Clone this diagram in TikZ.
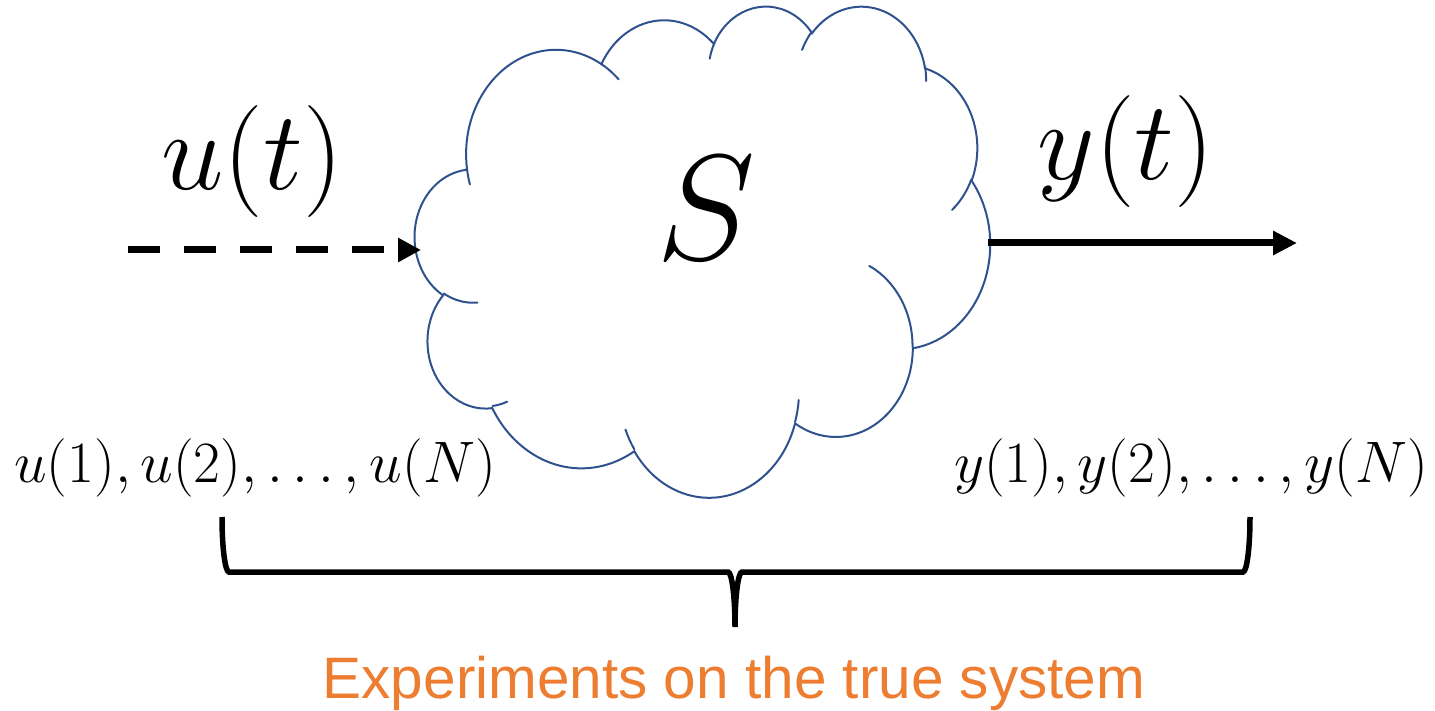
\RequirePackage{fix-cm}
\documentclass[tikz,border=0pt]{standalone}
\usepackage{fontspec}
\usepackage{tikz}
\usetikzlibrary{arrows.meta}
\newfontfamily\capfont{Liberation Sans}
\definecolor{myblue}{RGB}{47,82,143}
\definecolor{myorange}{RGB}{237,125,49}
\definecolor{mydark}{RGB}{0,0,0}
\tikzset{
  cloudline/.style={draw=myblue, line width=2pt, line cap=round},
  ooarc/.style n args={4}{x radius=#1, y radius=#2,
    start angle={atan2(#1*sin(#3),#2*cos(#3))},
    delta angle={Mod(atan2(#1*sin(#3+#4),#2*cos(#3+#4))-atan2(#1*sin(#3),#2*cos(#3)),360)}},
  dasharrow/.style={-{Triangle[length=23pt,width=23pt]}, line width=7pt,
    dash pattern=on 32pt off 24pt, color=mydark},
  arrow/.style={-{Triangle[length=24pt,width=23pt]}, line width=7pt, color=mydark},
  bracket/.style={line width=5.5pt, color=mydark},
  bigmath/.style={inner sep=0pt, anchor=base, font=\fontsize{112}{128}\selectfont},
  listmath/.style={inner sep=0pt, anchor=base, font=\fontsize{58.5}{66}\selectfont},
  captext/.style={inner sep=0pt, anchor=base, text=myorange,
    font=\capfont\fontsize{58.5}{66}\selectfont}
}
\begin{document}
\begin{tikzpicture}[x=1pt, y=1pt]
  \useasboundingbox (0,0) rectangle (1435,710);
  % cloud
  \begin{scope}[shift={(415pt,705pt)}, x=13.31pt, y=-11.366pt]
    \draw[cloudline] (3.900,14.370)
      arc[ooarc={6.753}{9.190}{-190.4875}{123.7805}]
      arc[ooarc={5.333}{7.267}{-144.1024}{89.9452}]
      arc[ooarc={4.365}{5.945}{-145.8079}{99.7230}]
      arc[ooarc={4.857}{6.595}{-130.9861}{117.2417}]
      arc[ooarc={5.333}{7.273}{-78.7089}{109.0269}]
      arc[ooarc={6.775}{9.220}{-46.2673}{130.2690}]
      arc[ooarc={5.785}{7.867}{0.6250}{114.0333}]
      arc[ooarc={6.752}{9.215}{22.4636}{115.1726}]
      arc[ooarc={7.720}{10.543}{66.2426}{75.7110}]
      arc[ooarc={4.360}{5.918}{-274.9421}{146.7356}]
      arc[ooarc={4.345}{5.945}{-246.8285}{152.5189}] -- cycle;
    \draw[cloudline]
      (4.693,26.177) arc[ooarc={4.345}{5.945}{86.7420}{26.4295}]
      (6.928,34.899) arc[ooarc={4.360}{5.918}{73.6105}{11.4475}]
      (16.478,39.090) arc[ooarc={6.752}{9.215}{137.6242}{14.0811}]
      (28.827,34.751) arc[ooarc={6.752}{9.215}{6.4533}{15.9984}]
      (34.129,22.954) arc[ooarc={5.785}{7.867}{-70.2924}{70.9174}]
      (41.798,15.354) arc[ooarc={5.333}{7.273}{30.3180}{27.7515}]
      (38.324,5.426) arc[ooarc={4.857}{6.595}{-13.7443}{14.8589}]
      (29.078,3.952) arc[ooarc={4.857}{6.595}{-149.1815}{18.1954}]
      (22.141,4.720) arc[ooarc={4.365}{5.945}{-163.4943}{17.6864}]
      (14.000,5.192) arc[ooarc={6.753}{9.190}{-66.7070}{12.3194}]
      (4.127,15.789) arc[ooarc={6.753}{9.190}{157.6544}{11.8582}];
  \end{scope}
  \node[bigmath, font=\fontsize{150}{170}\selectfont] (sys) at (706,450) {$S$};

  % input and output
  \coordinate (uin) at (128,460);
  \coordinate (cloudin) at (421,460);
  \coordinate (cloudout) at (988,467);
  \coordinate (yout) at (1297,467);
  \draw[dasharrow] (uin) -- (cloudin);
  \draw[arrow] (cloudout) -- (yout);
  \node[bigmath] (ut) at (252,520) {$u(t)$};
  \node[bigmath] (yt) at (1126,530) {$y(t)$};

  % data records
  \node[listmath] (ulist) at (255,227) {$u(1), u(2), \ldots, u(N)$};
  \node[listmath] (ylist) at (1191,227) {$y(1), y(2), \ldots, y(N)$};

  % brace
  \draw[bracket] (222,193)
    arc[start angle=180, end angle=270, x radius=7, y radius=55] -- (728,138)
    arc[start angle=90, end angle=0, x radius=7, y radius=55]
    arc[start angle=180, end angle=90, x radius=7, y radius=55] -- (1243,138)
    arc[start angle=270, end angle=360, x radius=7, y radius=55];
  \node[captext] (exp) at (734,12) {Experiments on the true system};
\end{tikzpicture}
\end{document}
